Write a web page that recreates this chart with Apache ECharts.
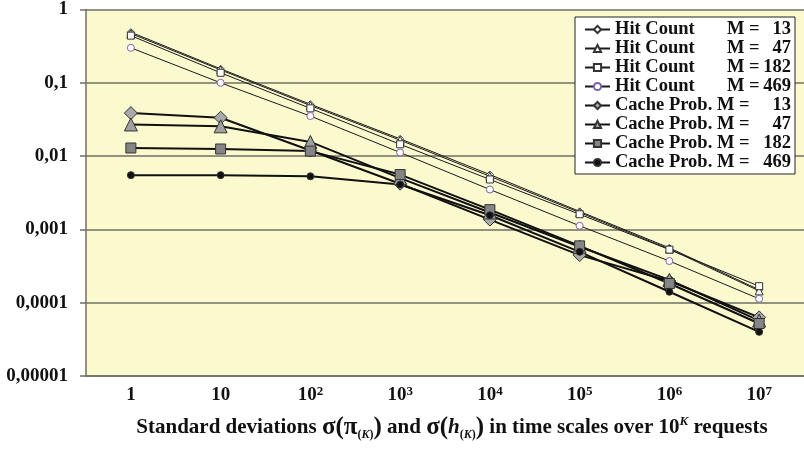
<!DOCTYPE html>
<html>
<head>
<meta charset="utf-8">
<script src="https://cdn.jsdelivr.net/npm/echarts@6/dist/echarts.min.js"></script>
<style>
  html, body { margin: 0; padding: 0; background: #ffffff; }
  #chart { width: 804px; height: 450px; }
</style>
</head>
<body>
<div id="chart"></div>
<script>
// Time scales: 10^K requests, K = 0..7
const categories = ['1', '10', '10^2', '10^3', '10^4', '10^5', '10^6', '10^7'];
const yTickLabels = ['0,00001', '0,0001', '0,001', '0,01', '0,1', '1'];

// Standard deviation of hit counts
const hitCount13  = [0.49, 0.155, 0.051, 0.0172, 0.0056, 0.00176, 0.00056, 0.000150];
const hitCount47  = [0.47, 0.150, 0.049, 0.0165, 0.0053, 0.00170, 0.00054, 0.000145];
const hitCount182 = [0.44, 0.137, 0.0448, 0.0145, 0.0048, 0.00161, 0.00053, 0.000168];
const hitCount469 = [0.30, 0.100, 0.0352, 0.0112, 0.0035, 0.00112, 0.00037, 0.000113];

// Standard deviation of cache probabilities
const cacheProb13  = [0.0386, 0.0334, 0.0119, 0.0042, 0.00136, 0.000446, 0.000198, 0.000063];
const cacheProb47  = [0.027, 0.0255, 0.0156, 0.0050, 0.0017, 0.00058, 0.000205, 0.000057];
const cacheProb182 = [0.0129, 0.0125, 0.0117, 0.0056, 0.00186, 0.000596, 0.000183, 0.000052];
const cacheProb469 = [0.0055, 0.0055, 0.0053, 0.0041, 0.00156, 0.000494, 0.000141, 0.000040];

const FONT = 'Liberation Serif';
const LEGEND_SIZE = 18.5;

function hitSeries(m, data, symbol, borderColor) {
  return {
    name: 'Hit Count M = ' + m,
    type: 'line',
    data: data,
    symbol: symbol,
    symbolSize: symbol === 'triangle' ? 8 : 7,
    z: 4,
    lineStyle: { color: '#1a1a1a', width: 1 },
    itemStyle: { color: '#ffffff', borderColor: borderColor, borderWidth: 1 },
    emphasis: { disabled: true },
    animation: false
  };
}

function cacheSeries(m, data, symbol, size, fill) {
  return {
    name: 'Cache Prob. M = ' + m,
    type: 'line',
    data: data,
    symbol: symbol,
    symbolSize: size,
    z: 3,
    lineStyle: { color: '#111111', width: 2 },
    itemStyle: { color: fill, borderColor: '#333333', borderWidth: 1 },
    emphasis: { disabled: true },
    animation: false
  };
}

const series = [
  cacheSeries(13, cacheProb13, 'diamond', 13, '#a9a9a9'),
  cacheSeries(47, cacheProb47, 'triangle', 13, '#a0a0a0'),
  cacheSeries(182, cacheProb182, 'rect', 10, '#858585'),
  cacheSeries(469, cacheProb469, 'circle', 7, '#111111'),
  hitSeries(13, hitCount13, 'diamond', '#333333'),
  hitSeries(47, hitCount47, 'triangle', '#333333'),
  hitSeries(182, hitCount182, 'rect', '#333333'),
  hitSeries(469, hitCount469, 'circle', '#7a62b3')
];

const legendOrder = [
  'Hit Count M = 13', 'Hit Count M = 47', 'Hit Count M = 182', 'Hit Count M = 469',
  'Cache Prob. M = 13', 'Cache Prob. M = 47', 'Cache Prob. M = 182', 'Cache Prob. M = 469'
];

function legendText(extra) {
  return Object.assign({ fontFamily: FONT, fontWeight: 'bold', fontSize: LEGEND_SIZE }, extra);
}

const chart = echarts.init(document.getElementById('chart'), null, { renderer: 'canvas' });

chart.setOption({
  backgroundColor: '#ffffff',
  animation: false,
  grid: {
    left: 86, right: -6, top: 9, bottom: 74,
    show: true, backgroundColor: '#fbf9ce', borderWidth: 0
  },
  legend: {
    data: legendOrder,
    orient: 'vertical',
    left: 575, top: 17,
    padding: [3, 4, 2, 9],
    itemGap: 0,
    itemWidth: 25,
    itemHeight: 9,
    backgroundColor: '#ffffff',
    borderColor: '#222222',
    borderWidth: 1,
    selectedMode: false,
    textStyle: {
      fontFamily: FONT, fontWeight: 'bold', fontSize: LEGEND_SIZE, color: '#111111', lineHeight: 19,
      rich: {
        hit: legendText({ width: 112 }),
        cache: legendText({ width: 102 }),
        mh: legendText({ width: 34 }),
        mc: legendText({ width: 44 }),
        num: legendText({ width: 30, align: 'right' })
      }
    },
    formatter: function (name) {
      const parts = name.split(' M = ');
      const isHit = parts[0] === 'Hit Count';
      return '{' + (isHit ? 'hit' : 'cache') + '|' + parts[0] + '}' +
             '{' + (isHit ? 'mh' : 'mc') + '|M =}' +
             '{num|' + parts[1] + '}';
    }
  },
  xAxis: {
    type: 'category',
    data: categories,
    boundaryGap: true,
    axisLine: { show: true, lineStyle: { color: '#6f6f66', width: 1.5 } },
    axisTick: { show: false },
    axisLabel: {
      interval: 0,
      margin: 9,
      color: '#111111',
      fontFamily: FONT, fontWeight: 'bold', fontSize: 19, lineHeight: 20,
      rich: {
        sup: { fontFamily: FONT, fontWeight: 'bold', fontSize: 13, lineHeight: 12, verticalAlign: 'top', color: '#111111' }
      },
      formatter: function (v) {
        const p = v.split('^');
        return p.length === 2 ? p[0] + '{sup|' + p[1] + '}' : v;
      }
    },
    splitLine: { show: false }
  },
  yAxis: {
    type: 'log',
    logBase: 10,
    min: 0.00001,
    max: 1,
    axisLine: { show: true, lineStyle: { color: '#6f6f66', width: 1.5 } },
    axisTick: { show: true, length: 6, lineStyle: { color: '#6f6f66', width: 1.5 } },
    axisLabel: {
      margin: 18,
      color: '#111111',
      fontFamily: FONT, fontWeight: 'bold', fontSize: 19,
      formatter: function (v) {
        const i = Math.round(Math.log10(v)) + 5;
        return yTickLabels[i];
      }
    },
    splitLine: { show: true, lineStyle: { color: '#6f6f66', width: 1.5 } }
  },
  graphic: [{
    type: 'text',
    x: 452, y: 428,
    style: {
      x: 0, y: 0,
      text: 'Standard deviations {g|σ(π}{sub|(}{subi|K}{sub|)}{g|)} and {g|σ(}{it|h}{sub|(}{subi|K}{sub|)}{g|)} in time scales over 10{sup|K} requests',
      fontFamily: FONT, fontWeight: 'bold', fontSize: 21, lineHeight: 26,
      fill: '#111111',
      align: 'center', verticalAlign: 'middle',
      rich: {
        g: { fontFamily: FONT, fontWeight: 'bold', fontSize: 25, lineHeight: 26 },
        it: { fontFamily: FONT, fontWeight: 'bold', fontStyle: 'italic', fontSize: 21, lineHeight: 26 },
        sub: { fontFamily: FONT, fontWeight: 'bold', fontSize: 12, lineHeight: 12, verticalAlign: 'bottom' },
        subi: { fontFamily: FONT, fontWeight: 'bold', fontStyle: 'italic', fontSize: 12, lineHeight: 12, verticalAlign: 'bottom' },
        sup: { fontFamily: FONT, fontWeight: 'bold', fontStyle: 'italic', fontSize: 13, lineHeight: 13, verticalAlign: 'top' }
      }
    }
  }],
  series: series
});
</script>
</body>
</html>
